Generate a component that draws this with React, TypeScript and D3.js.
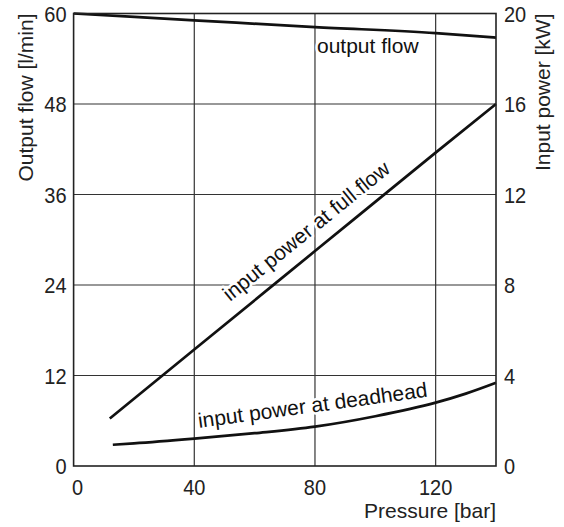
import React from "react";
import * as d3 from "d3";

const pressureTicks = [0, 40, 80, 120];
const flowTicks = [0, 12, 24, 36, 48, 60];
const powerTicks = [0, 4, 8, 12, 16, 20];

// output flow [l/min] vs pressure [bar]
const outputFlowPressure = [0, 40, 80, 120, 140];
const outputFlow = [60, 59.1, 58.2, 57.4, 56.8];

// input power at full flow [kW]
const fullFlowPressure = [12, 40, 80, 120, 140];
const fullFlowPower = [2.1, 5.15, 9.5, 13.85, 16];

// input power at deadhead [kW]
const deadheadPressure = [13, 20, 40, 60, 80, 100, 120, 130, 140];
const deadheadPower = [0.94, 1.0, 1.21, 1.45, 1.74, 2.2, 2.8, 3.2, 3.68];

const W = 564;
const H = 527;
const margin = { top: 13.5, right: 68, bottom: 61, left: 73.6 };
const FONT = "'Liberation Sans', Arial, Helvetica, sans-serif";
const TICK_STRETCH = "scale(1,1.12)";

export default function App() {
  const x = d3
    .scaleLinear()
    .domain([0, 140])
    .range([margin.left, W - margin.right]);
  const yFlow = d3
    .scaleLinear()
    .domain([0, 60])
    .range([H - margin.bottom, margin.top]);
  const yPower = d3
    .scaleLinear()
    .domain([0, 20])
    .range([H - margin.bottom, margin.top]);

  const flowLine = d3
    .line<number>()
    .x((_, i) => x(outputFlowPressure[i]))
    .y((d) => yFlow(d))
    .curve(d3.curveMonotoneX);
  const fullLine = d3
    .line<number>()
    .x((_, i) => x(fullFlowPressure[i]))
    .y((d) => yPower(d))
    .curve(d3.curveMonotoneX);
  const deadLine = d3
    .line<number>()
    .x((_, i) => x(deadheadPressure[i]))
    .y((d) => yPower(d))
    .curve(d3.curveMonotoneX);

  const x0 = x(0);
  const x1 = x(140);
  const yTop = yFlow(60);
  const yBot = yFlow(0);

  const halo = {
    stroke: "#fff",
    strokeWidth: 5,
    paintOrder: "stroke" as const,
    strokeLinejoin: "round" as const,
  };

  return (
    <svg
      width={W}
      height={H}
      style={{ position: "absolute", left: 0, top: 0, background: "#fff" }}
      fontFamily={FONT}
    >
      {/* grid */}
      <g stroke="#333" strokeWidth={1.2}>
        {pressureTicks.slice(1).map((t) => (
          <line key={"gx" + t} x1={x(t)} x2={x(t)} y1={yTop} y2={yBot} />
        ))}
        {flowTicks.slice(1, -1).map((t) => (
          <line key={"gy" + t} x1={x0} x2={x1} y1={yFlow(t)} y2={yFlow(t)} />
        ))}
      </g>

      {/* curve labels */}
      <g fontSize={21} fill="#111" style={halo}>
        <text x={317} y={53}>output flow</text>
        <text transform={`translate(230,302) rotate(-39)`}>
          input power at full flow
        </text>
        <text transform={`translate(199,428) rotate(-7.8)`}>
          input power at deadhead
        </text>
      </g>

      {/* data */}
      <g fill="none" stroke="#111" strokeWidth={2.7} strokeLinecap="butt">
        <path d={flowLine(outputFlow) || ""} />
        <path d={fullLine(fullFlowPower) || ""} />
        <path d={deadLine(deadheadPower) || ""} />
      </g>

      {/* frame */}
      <rect
        x={x0}
        y={yTop}
        width={x1 - x0}
        height={yBot - yTop}
        fill="none"
        stroke="#222"
        strokeWidth={1.6}
      />

      {/* left ticks */}
      <g fontSize={20} fill="#222" textAnchor="end">
        {flowTicks.map((t) => (
          <text
            key={"l" + t}
            transform={`translate(${x0 - 7},${yFlow(t)}) ${TICK_STRETCH}`}
            dy="0.36em"
          >
            {t}
          </text>
        ))}
      </g>
      {/* right ticks */}
      <g fontSize={20} fill="#222" textAnchor="start">
        {powerTicks.map((t) => (
          <text
            key={"r" + t}
            transform={`translate(${x1 + 8},${yPower(t)}) ${TICK_STRETCH}`}
            dy="0.36em"
          >
            {t}
          </text>
        ))}
      </g>
      {/* bottom ticks */}
      <g fontSize={20} fill="#222" textAnchor="middle">
        {pressureTicks.map((t) => (
          <text
            key={"b" + t}
            transform={`translate(${x(t) + (t === 0 ? 4 : 0)},495) ${TICK_STRETCH}`}
          >
            {t}
          </text>
        ))}
      </g>

      {/* axis titles */}
      <text x={x1} y={518} fontSize={21} fill="#222" textAnchor="end">
        Pressure [bar]
      </text>
      <text
        transform={`translate(33,${yTop}) rotate(-90)`}
        fontSize={21}
        fill="#222"
        textAnchor="end"
      >
        Output flow [l/min]
      </text>
      <text
        transform={`translate(550,${yTop}) rotate(-90)`}
        fontSize={21}
        fill="#222"
        textAnchor="end"
      >
        Input power [kW]
      </text>
    </svg>
  );
}
